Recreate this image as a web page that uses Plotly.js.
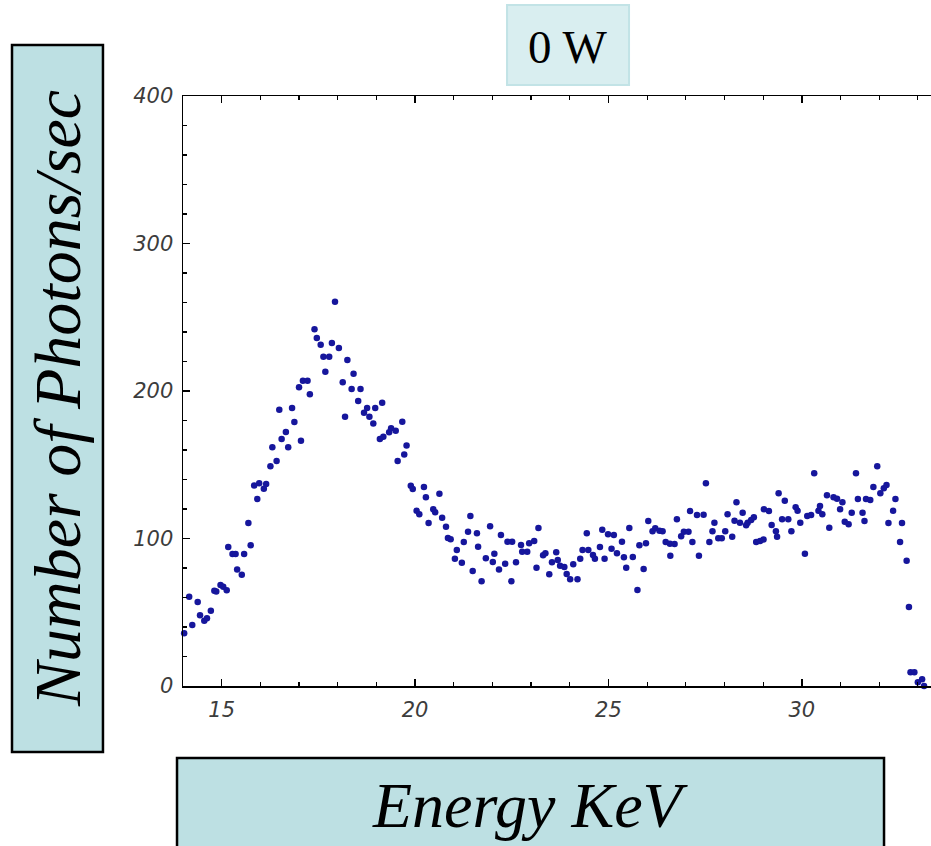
<!DOCTYPE html>
<html>
<head>
<meta charset="utf-8">
<script src="https://cdn.plot.ly/plotly-3.0.1.min.js"></script>
<style>
  html, body { margin: 0; padding: 0; background: #ffffff; }
  #chart { width: 931px; height: 846px; }
</style>
</head>
<body>
<div id="chart"></div>
<script>
// Photon count spectrum at 0 W: energy (keV) and counts per second
const energy = [
  14.03, 14.16, 14.24, 14.38, 14.44, 14.55, 14.62, 14.72, 14.81, 14.86,
  14.97, 15.04, 15.13, 15.17, 15.28, 15.36, 15.40, 15.52, 15.58, 15.69,
  15.75, 15.84, 15.92, 15.97, 16.09, 16.15, 16.26, 16.31, 16.42, 16.49,
  16.55, 16.66, 16.72, 16.82, 16.88, 17.00, 17.05, 17.10, 17.22, 17.28,
  17.40, 17.46, 17.56, 17.63, 17.68, 17.78, 17.85, 17.93, 18.03, 18.13,
  18.19, 18.25, 18.36, 18.41, 18.53, 18.59, 18.68, 18.76, 18.82, 18.92,
  18.97, 19.09, 19.15, 19.18, 19.33, 19.38, 19.50, 19.55, 19.67, 19.72,
  19.78, 19.89, 19.94, 20.04, 20.11, 20.23, 20.28, 20.35, 20.47, 20.52,
  20.63, 20.70, 20.80, 20.85, 20.92, 21.03, 21.08, 21.21, 21.26, 21.37,
  21.43, 21.49, 21.60, 21.63, 21.72, 21.83, 21.94, 22.01, 22.05, 22.17,
  22.22, 22.33, 22.39, 22.49, 22.51, 22.61, 22.74, 22.77, 22.90, 22.95,
  23.08, 23.14, 23.19, 23.31, 23.37, 23.47, 23.54, 23.65, 23.69, 23.75,
  23.86, 23.92, 24.01, 24.09, 24.20, 24.27, 24.33, 24.44, 24.48, 24.60,
  24.65, 24.78, 24.84, 24.90, 24.99, 25.08, 25.14, 25.22, 25.35, 25.40,
  25.46, 25.54, 25.63, 25.75, 25.80, 25.91, 25.97, 26.03, 26.14, 26.21,
  26.32, 26.40, 26.48, 26.59, 26.60, 26.71, 26.77, 26.88, 26.95, 27.07,
  27.11, 27.17, 27.29, 27.34, 27.46, 27.52, 27.61, 27.69, 27.74, 27.84,
  27.93, 28.02, 28.08, 28.20, 28.26, 28.31, 28.40, 28.47, 28.56, 28.60,
  28.69, 28.76, 28.82, 28.92, 29.01, 29.02, 29.15, 29.22, 29.33, 29.36,
  29.40, 29.49, 29.56, 29.65, 29.73, 29.84, 29.89, 29.96, 30.08, 30.14,
  30.24, 30.32, 30.43, 30.47, 30.53, 30.65, 30.71, 30.82, 30.91, 30.99,
  31.05, 31.11, 31.21, 31.29, 31.40, 31.45, 31.57, 31.62, 31.66, 31.77,
  31.85, 31.95, 32.03, 32.12, 32.19, 32.24, 32.36, 32.42, 32.54, 32.59,
  32.71, 32.77, 32.81, 32.91, 33.00, 33.11, 33.16
];
const photons = [
  35.7, 60.5, 41.4, 57.0, 48.0, 44.3, 45.9, 51.0, 64.6, 64.0,
  68.5, 67.3, 65.0, 94.2, 89.5, 89.5, 79.0, 75.5, 89.5, 110.5,
  95.4, 136.0, 126.8, 137.4, 133.8, 137.0, 149.0, 161.8, 152.5, 187.3,
  167.5, 172.2, 161.8, 188.5, 179.0, 202.5, 166.3, 207.0, 207.0, 197.8,
  241.8, 236.0, 231.4, 223.3, 213.0, 223.3, 232.5, 260.5, 229.2, 206.0,
  182.6, 221.0, 201.4, 211.7, 193.2, 201.4, 185.3, 188.5, 182.6, 178.0,
  188.5, 167.5, 192.0, 169.0, 172.0, 174.7, 173.0, 152.5, 179.2, 157.0,
  163.0, 135.8, 133.6, 118.8, 116.4, 135.0, 128.0, 110.5, 119.8, 117.8,
  130.4, 114.0, 108.0, 100.3, 99.5, 86.3, 92.2, 83.6, 97.6, 104.6,
  115.3, 78.0, 103.5, 94.4, 71.0, 86.6, 108.3, 84.0, 89.7, 79.0,
  102.4, 82.9, 97.8, 71.0, 97.8, 83.9, 95.6, 91.0, 91.0, 96.7,
  98.3, 80.2, 107.1, 88.6, 90.0, 75.7, 83.9, 90.6, 85.4, 81.6,
  80.7, 75.9, 72.3, 82.5, 72.3, 86.3, 92.2, 103.5, 92.2, 88.8,
  86.3, 94.2, 106.0, 86.3, 102.8, 93.1, 102.4, 90.0, 97.8, 87.3,
  80.2, 107.1, 87.5, 65.1, 95.4, 79.3, 96.7, 111.9, 104.9, 106.9,
  105.3, 104.9, 97.6, 96.5, 88.3, 96.3, 113.0, 101.5, 104.6, 104.6,
  118.6, 97.6, 116.0, 88.3, 116.1, 137.4, 97.6, 104.9, 110.7, 100.1,
  100.1, 104.9, 116.4, 101.2, 112.1, 124.5, 110.7, 117.5, 108.9, 110.7,
  112.5, 114.4, 97.6, 98.3, 99.4, 119.8, 118.6, 109.2, 104.9, 101.2,
  130.6, 113.0, 125.6, 113.0, 104.9, 121.2, 118.8, 110.7, 89.7, 115.3,
  115.9, 144.2, 118.8, 122.0, 116.4, 129.3, 107.3, 127.9, 127.0, 119.8,
  124.5, 111.4, 109.6, 117.5, 144.2, 126.8, 117.5, 111.9, 126.8, 126.1,
  134.9, 149.0, 130.6, 134.0, 136.3, 110.5, 118.8, 126.8, 97.6, 110.5,
  84.9, 53.6, 9.3, 9.3, 2.5, 4.5, 0.0
];

const xTickVals = [15, 20, 25, 30];
const xTickText = ['15', '20', '25', '30'];
const yTickVals = [0, 100, 200, 300, 400];
const yTickText = ['0', '100', '200', '300', '400'];

const titleText = '0 W';
const xTitleText = 'Energy KeV';
const yTitleText = 'Number of Photons/sec';

const serif = '"Liberation Serif", "Times New Roman", serif';
const tickFont = { family: '"DejaVu Sans", sans-serif', size: 21, color: '#3c3c3c', style: 'italic' };
const boxFill = '#bde0e3';

const trace = {
  x: energy,
  y: photons,
  type: 'scatter',
  mode: 'markers',
  marker: { color: '#16169c', size: 6.5, line: { width: 0 } },
  cliponaxis: false,
  hoverinfo: 'x+y'
};

const layout = {
  width: 931,
  height: 846,
  margin: { l: 183, r: 0, t: 96, b: 160, pad: 0 },
  paper_bgcolor: '#ffffff',
  plot_bgcolor: '#ffffff',
  showlegend: false,
  xaxis: {
    range: [14, 33.34],
    showgrid: false,
    zeroline: false,
    showline: true,
    linecolor: '#000',
    linewidth: 1.5,
    mirror: 'ticks',
    ticks: 'inside',
    ticklen: 7,
    tickwidth: 1.5,
    tickcolor: '#000',
    tickvals: xTickVals,
    ticktext: xTickText,
    tickfont: tickFont,
    ticklabelstandoff: 4,
    minor: { dtick: 1, ticks: 'inside', ticklen: 4, tickwidth: 1.2, tickcolor: '#000', showgrid: false }
  },
  yaxis: {
    range: [0, 400],
    showgrid: false,
    zeroline: false,
    showline: true,
    linecolor: '#000',
    linewidth: 1.5,
    ticks: 'inside',
    ticklen: 7,
    tickwidth: 1.5,
    tickcolor: '#000',
    tickvals: yTickVals,
    ticktext: yTickText,
    tickfont: tickFont,
    ticklabelstandoff: 4,
    minor: { dtick: 20, ticks: 'inside', ticklen: 4, tickwidth: 1.2, tickcolor: '#000', showgrid: false }
  },
  shapes: [
    // boxed vertical axis title
    { type: 'rect', xref: 'paper', yref: 'paper', x0: -0.2286, x1: -0.1070, y0: -0.1119, y1: 1.0864,
      fillcolor: boxFill, line: { color: '#000', width: 2.5 } },
    // boxed horizontal axis title
    { type: 'rect', xref: 'paper', yref: 'paper', x0: -0.0080, x1: 0.9372, y0: -0.32, y1: -0.1220,
      fillcolor: boxFill, line: { color: '#000', width: 2.5 } },
    // title box
    { type: 'rect', xref: 'paper', yref: 'paper', x0: 0.4332, x1: 0.5963, y0: 1.0186, y1: 1.1542,
      fillcolor: '#d9eef0', line: { color: '#c2e3e6', width: 2 } }
  ],
  annotations: [
    { text: titleText, xref: 'paper', yref: 'paper', x: 0.5134, y: 1.083,
      xanchor: 'center', yanchor: 'middle', showarrow: false,
      font: { family: serif, size: 47, color: '#000' } },
    { text: xTitleText, xref: 'paper', yref: 'paper', x: 0.4652, y: -0.2017,
      xanchor: 'center', yanchor: 'middle', showarrow: false,
      font: { family: serif, size: 64, color: '#000', style: 'italic' } },
    { text: yTitleText, xref: 'paper', yref: 'paper', x: -0.1678, y: 0.4873,
      xanchor: 'center', yanchor: 'middle', showarrow: false, textangle: -90,
      font: { family: serif, size: 66, color: '#000', style: 'italic' } }
  ]
};

Plotly.newPlot('chart', [trace], layout, { staticPlot: true, displayModeBar: false });
</script>
</body>
</html>
